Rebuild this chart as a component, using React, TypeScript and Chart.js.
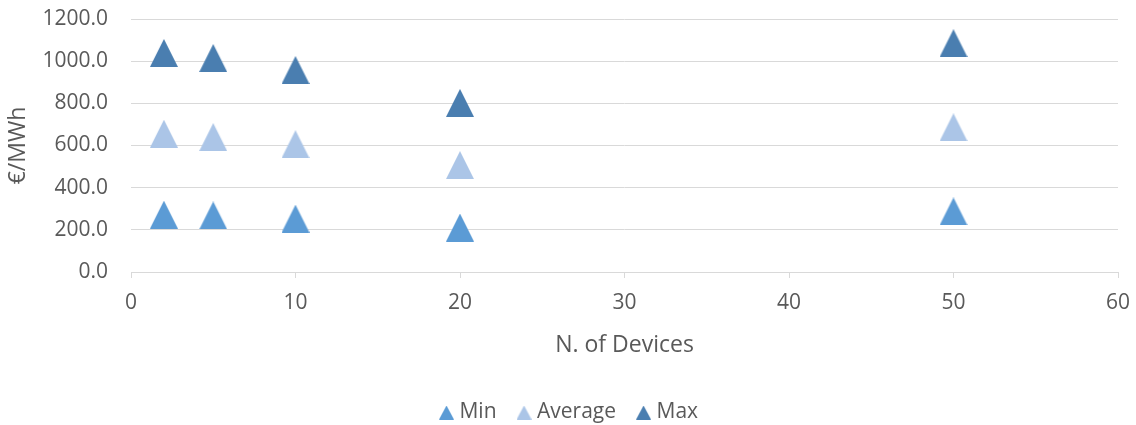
import React, { useEffect, useRef } from "react";
import { Chart, registerables } from "chart.js";

Chart.register(...registerables);

const xValues = [2, 5, 10, 20, 50];
const minValues = [272, 268, 253, 211, 287];
const avgValues = [656, 640, 606, 507, 686];
const maxValues = [1039, 1015, 958, 802, 1085];
const seriesNames = ["Min", "Average", "Max"];
const seriesColors = ["#5B9BD5", "#ABC5E7", "#4A7EB0"];
const yMin = 0;
const yMax = 1200;
const yStep = 200;
const xMin = 0;
const xMax = 60;
const xStep = 10;

function makeTriangle(w: number, h: number, color: string): HTMLCanvasElement {
  const c = document.createElement("canvas");
  c.width = w;
  c.height = h;
  const ctx = c.getContext("2d")!;
  ctx.fillStyle = color;
  ctx.beginPath();
  ctx.moveTo(w / 2, 0);
  ctx.lineTo(w, h);
  ctx.lineTo(0, h);
  ctx.closePath();
  ctx.fill();
  return c;
}

const FONT = "'Open Sans', sans-serif";
const TXT = "#595959";
const GRID = "#D9D9D9";
const PAD_LEFT = 6;

export default function App() {
  const ref = useRef<HTMLCanvasElement | null>(null);
  useEffect(() => {
    if (!ref.current) return;
    const series = [minValues, avgValues, maxValues];
    const bigMarkers = seriesColors.map((c) => makeTriangle(28, 28, c));
    const smallMarkers = seriesColors.map((c) => makeTriangle(15, 14, c));
    const chart = new Chart(ref.current, {
      type: "scatter",
      data: {
        datasets: series.map((vals, i) => ({
          label: seriesNames[i],
          data: xValues.map((x, j) => ({ x, y: vals[j] })),
          pointStyle: bigMarkers[i] as any,
          pointRadius: 14,
          backgroundColor: seriesColors[i],
          borderColor: seriesColors[i],
          showLine: false,
        })),
      },
      options: {
        animation: false,
        responsive: false,
        devicePixelRatio: 1,
        layout: { autoPadding: false, padding: { left: PAD_LEFT, right: 0, top: 19, bottom: -8 } },
        plugins: {
          tooltip: { enabled: false },
          legend: {
            position: "bottom",
            labels: {
              usePointStyle: true,
              pointStyleWidth: 5,
              padding: 25,
              color: TXT,
              font: { family: FONT, size: 21 },
              generateLabels: (ch: any) =>
                ch.data.datasets.map((ds: any, i: number) => ({
                  text: ds.label,
                  pointStyle: smallMarkers[i],
                  fillStyle: seriesColors[i],
                  strokeStyle: seriesColors[i],
                  lineWidth: 0,
                  fontColor: TXT,
                  hidden: false,
                  datasetIndex: i,
                })),
            },
          },
        },
        scales: {
          x: {
            type: "linear",
            min: xMin,
            max: xMax,
            ticks: {
              stepSize: xStep,
              color: TXT,
              font: { family: FONT, size: 21 },
              padding: 12,
              maxRotation: 0,
            },
            grid: {
              display: true,
              drawOnChartArea: false,
              drawTicks: true,
              tickLength: 6,
              color: GRID,
            },
            border: { display: true, color: GRID },
            title: {
              display: true,
              text: "N. of Devices",
              color: TXT,
              font: { family: FONT, size: 23 },
              padding: { top: 0, bottom: 18 },
            },
            afterFit: (scale: any) => {
              const lg = scale.chart.legend;
              scale.height = 433 - (lg ? lg.height : 56) - 272;
              scale.paddingLeft = 0;
              scale.paddingRight = 18;
            },
          },
          y: {
            type: "linear",
            min: yMin,
            max: yMax,
            ticks: {
              stepSize: yStep,
              color: TXT,
              font: { family: FONT, size: 21 },
              padding: 23,
              callback: (v: any) => Number(v).toFixed(1),
            },
            grid: { color: GRID, drawTicks: false },
            border: { display: false },
            title: {
              display: true,
              text: "€/MWh",
              color: TXT,
              font: { family: FONT, size: 23 },
              padding: { top: 5 - PAD_LEFT, bottom: 0 },
            },
            afterFit: (scale: any) => {
              scale.width = 131 - PAD_LEFT;
              scale.paddingTop = 0;
              scale.paddingBottom = 0;
            },
          },
        },
      },
    });
    return () => chart.destroy();
  }, []);
  return (
    <div style={{ position: "absolute", left: 0, top: 0, width: 1136, height: 425 }}>
      <canvas ref={ref} width={1136} height={425} />
    </div>
  );
}
